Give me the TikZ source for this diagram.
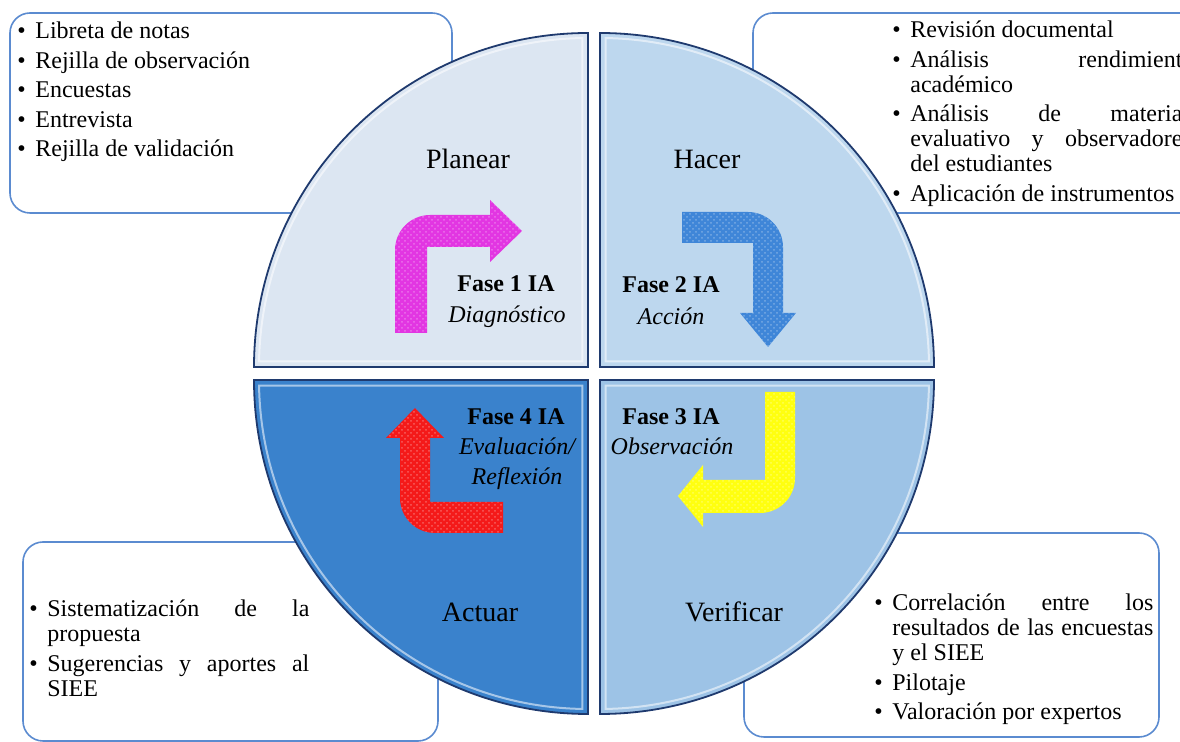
\documentclass[tikz,border=0pt]{standalone}
\usepackage{fontspec}
\setmainfont{Liberation Serif}
\usetikzlibrary{calc,patterns}
\definecolor{qTL}{HTML}{DCE6F2}
\definecolor{qTR}{HTML}{BDD7EE}
\definecolor{qBL}{HTML}{3A82CC}
\definecolor{qBR}{HTML}{9DC3E6}
\definecolor{qborder}{HTML}{1F3A6E}
\definecolor{boxblue}{HTML}{5B8BD0}
\definecolor{arMag}{HTML}{E236E2}
\definecolor{arBlue}{HTML}{3F86D8}
\definecolor{arYel}{HTML}{FFFF10}
\definecolor{arRed}{HTML}{F41A1A}
\newcommand{\fitem}[1]{\noindent\hangindent=9pt\hangafter=1\hbox to 9pt{\textbullet\hss}#1}
\newcommand{\bitem}[1]{\par\fitem{#1}}
\newcommand{\listsetup}{\setlength{\parskip}{2.2pt}\tolerance=10000 \hyphenpenalty=10000 \fontsize{12}{12.5}\selectfont}
\tikzset{
  quad/.style={draw=qborder, line width=0.9pt},
  bevel/.style={draw=white, line width=1pt, opacity=0.55},
  infobox/.style={draw=boxblue, line width=0.8pt, fill=white, rounded corners=10pt},
  listnode/.style={anchor=base west, inner sep=0pt, align=justify},
  phase/.style={font=\fontsize{14}{16}\selectfont, anchor=base, inner sep=0pt},
  fase/.style={font=\fontsize{12}{14}\selectfont\bfseries, anchor=base, inner sep=0pt},
  fasename/.style={font=\fontsize{12}{14}\selectfont\itshape, anchor=base, inner sep=0pt},
  texture/.style={postaction={fill opacity=0.3, pattern=crosshatch dots, pattern color=white}},
}
\begin{document}
\begin{tikzpicture}[x=0.5pt,y=-0.5pt]
\useasboundingbox (0,0) rectangle (1180,742);
% information boxes (behind the circle)
\draw[infobox] (10,13) rectangle (452,213);
\draw[infobox] (753,13) rectangle (1210,213);
\draw[infobox] (23,542) rectangle (438,741);
\draw[infobox] (744,533) rectangle (1159,737);
% quadrants
\path[quad, fill=qTL] (588,367) -- (254,367) arc[start angle=180, end angle=270, radius=334] -- cycle;
\path[quad, fill=qTR] (600,367) -- (600,33) arc[start angle=270, end angle=360, radius=334] -- cycle;
\path[quad, fill=qBR] (600,380) -- (934,380) arc[start angle=0, end angle=90, radius=334] -- cycle;
\path[quad, fill=qBL] (588,380) -- (588,714) arc[start angle=90, end angle=180, radius=334] -- cycle;
% bevel highlights
\draw[bevel] ($(588,367)+(181:329)$) arc[start angle=181, end angle=269, radius=329] -- (582.3,361.3) -- cycle;
\draw[bevel] ($(600,367)+(271:329)$) arc[start angle=271, end angle=359, radius=329] -- (605.7,361.3) -- cycle;
\draw[bevel] ($(600,380)+(1:329)$) arc[start angle=1, end angle=89, radius=329] -- (605.7,385.7) -- cycle;
\draw[bevel] ($(588,380)+(91:329)$) arc[start angle=91, end angle=179, radius=329] -- (582.3,385.7) -- cycle;
% bent arrows
\fill[arMag, texture] (395,333) -- (395,250) arc[start angle=180, end angle=270, radius=35] -- (490,215) -- (490,200) -- (522,231) -- (490,262) -- (490,247) -- (427,247) -- (427,333) -- cycle;
\fill[arBlue, texture] (682,212) -- (748,212) arc[start angle=270, end angle=360, radius=35] -- (783,313) -- (796,313) -- (768,347) -- (740,313) -- (753,313) -- (753,243) -- (682,243) -- cycle;
\fill[arYel, texture] (765,392) -- (795,392) -- (795,478) arc[start angle=0, end angle=90, radius=35] -- (703,513) -- (703,527) -- (678,496) -- (703,465) -- (703,480) -- (765,480) -- cycle;
\fill[arRed, texture] (503,502) -- (430,502) -- (430,438) -- (444,438) -- (415,408) -- (386,438) -- (400,438) -- (400,498) arc[start angle=180, end angle=90, radius=35] -- (503,533) -- cycle;
% quadrant titles
\node[phase] (planear) at (468,169) {Planear};
\node[phase] (hacer) at (707,169) {Hacer};
\node[phase] (actuar) at (480,622) {Actuar};
\node[phase] (verificar) at (734,622) {Verificar};
% phases
\node[fase] (f1) at (506,292) {Fase 1 IA};
\node[fasename] (n1) at (507,323) {Diagnóstico};
\node[fase] (f2) at (671,293) {Fase 2 IA};
\node[fasename] (n2) at (671,325) {Acción};
\node[fase] (f3) at (671,425) {Fase 3 IA};
\node[fasename] (n3) at (672,455) {Observación};
\node[fase] (f4) at (516,425) {Fase 4 IA};
\node[fasename] (n4a) at (517,455) {Evaluación/};
\node[fasename] (n4b) at (517,485) {Reflexión};
% lists
\node[listnode, text width=200pt] (list1) at (17,39) {\listsetup
  \fitem{Libreta de notas}\bitem{Rejilla de observación}\bitem{Encuestas}\bitem{Entrevista}\bitem{Rejilla de validación}\par};
\node[listnode, text width=145pt] (list2) at (892,38) {\listsetup
  \fitem{Revisión documental}\bitem{Análisis rendimient\linebreak académico}\bitem{Análisis de materia\linebreak evaluativo y observadore\linebreak del estudiantes}\bitem{Aplicación de instrumentos}\par};
\node[listnode, text width=140pt] (list3) at (29,617) {\listsetup
  \fitem{Sistematización de la\linebreak propuesta}\bitem{Sugerencias y aportes al\linebreak SIEE}\par};
\node[listnode, text width=139.5pt] (list4) at (874,611) {\listsetup
  \fitem{Correlación entre los\linebreak resultados de las encuestas\linebreak y el SIEE}\bitem{Pilotaje}\bitem{Valoración por expertos}\par};
\end{tikzpicture}
\end{document}
